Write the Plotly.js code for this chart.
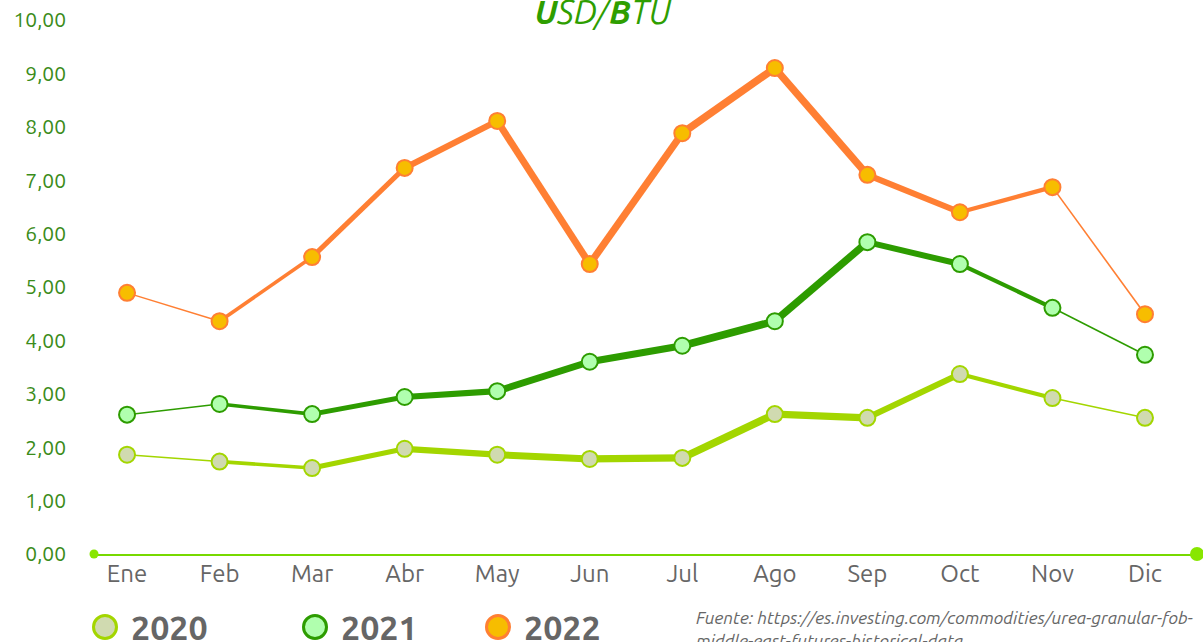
<!DOCTYPE html>
<html>
<head>
<meta charset="utf-8">
<script src="https://cdn.plot.ly/plotly-3.0.1.min.js"></script>
<style>html,body{margin:0;padding:0;background:#fff}#chart{width:1203px;height:642px}</style>
</head>
<body>
<div id="chart"></div>
<script>
const months = ["Ene","Feb","Mar","Abr","May","Jun","Jul","Ago","Sep","Oct","Nov","Dic"];
const values2020 = [1.86, 1.73, 1.61, 1.97, 1.86, 1.78, 1.80, 2.62, 2.55, 3.37, 2.92, 2.55];
const values2021 = [2.61, 2.81, 2.62, 2.94, 3.05, 3.60, 3.90, 4.36, 5.84, 5.43, 4.61, 3.73];
const values2022 = [4.89, 4.36, 5.56, 7.23, 8.11, 5.43, 7.88, 9.10, 7.10, 6.40, 6.87, 4.49];
const seriesNames = ["2020","2021","2022"];
const yTicks = [0,1,2,3,4,5,6,7,8,9,10];
const sourceText = "Fuente: https://es.investing.com/commodities/urea-granular-fob-<br>middle-east-futures-historical-data";

// styles
const segWidths = [1.5, 3.6, 5.0, 6.2, 7.0, 7.2, 7.6, 7.4, 6.0, 4.2, 1.6];
const lineColors = ["#a3d600", "#2d9c00", "#ff7f33"];
const markerFill = ["#d0dab0", "#b0ffae", "#f7bd00"];
const markerLine = ["#a3d600", "#2d9c00", "#ff7f33"];
const allValues = [values2020, values2021, values2022];
const FONT = "Ubuntu, 'Open Sans', sans-serif";

const traces = [];
allValues.forEach((vals, s) => {
  for (let i = 0; i < vals.length - 1; i++) {
    traces.push({
      type: "scatter", mode: "lines",
      x: [months[i], months[i+1]], y: [vals[i], vals[i+1]],
      line: {color: lineColors[s], width: segWidths[i]},
      showlegend: false, hoverinfo: "skip"
    });
  }
});
allValues.forEach((vals, s) => {
  traces.push({
    type: "scatter", mode: "markers", name: seriesNames[s],
    x: months, y: vals, cliponaxis: false,
    marker: {size: 16, color: markerFill[s], line: {color: markerLine[s], width: 2}},
    showlegend: false
  });
});

const legendX = [105, 315, 498];
const shapes = [];
const annotations = [];
seriesNames.forEach((n, s) => {
  shapes.push({type: "circle", xref: "paper", yref: "paper", xsizemode: "pixel", ysizemode: "pixel",
    xanchor: (legendX[s] - 94) / 1103, yanchor: -(627 - 554) / 534,
    x0: -11.5, x1: 11.5, y0: -11.5, y1: 11.5,
    fillcolor: markerFill[s], line: {color: markerLine[s], width: 3}});
  annotations.push({xref: "paper", yref: "paper", x: (legendX[s] + 24 - 94) / 1103, y: -(627 - 554) / 534,
    xanchor: "left", yanchor: "middle", showarrow: false, text: "<b>" + n + "</b>",
    font: {family: FONT, size: 34, color: "#666666"}});
});
// axis end dots
shapes.push({type: "circle", xref: "paper", yref: "paper", xsizemode: "pixel", ysizemode: "pixel",
  xanchor: 0, yanchor: 0, x0: -4.5, x1: 4.5, y0: -4.5, y1: 4.5, fillcolor: "#88e600", line: {width: 0}});
shapes.push({type: "circle", xref: "paper", yref: "paper", xsizemode: "pixel", ysizemode: "pixel",
  xanchor: 1, yanchor: 0, x0: -7, x1: 7, y0: -7, y1: 7, fillcolor: "#88e600", line: {width: 0}});

annotations.push({xref: "paper", yref: "paper", x: (694 - 94) / 1103, y: -(606 - 554) / 534,
  xanchor: "left", yanchor: "top", align: "left", showarrow: false, text: "<i>" + sourceText + "</i>",
  font: {family: FONT, size: 17.5, color: "#666666"}});

const layout = {
  width: 1203, height: 642,
  margin: {l: 94, r: 6, t: 20, b: 88},
  paper_bgcolor: "#ffffff", plot_bgcolor: "#ffffff",
  separators: ",.",
  showlegend: false,
  title: {text: "<i><b>U</b>SD/<b>B</b>TU</i>", xref: "container", x: 0.501, xanchor: "center",
    yref: "container", y: 0.998, yanchor: "top", pad: {t: 0},
    font: {family: FONT, size: 33, color: "#2e9e00"}},
  xaxis: {type: "category", categoryorder: "array", categoryarray: months,
    range: [-0.357, 11.562], showgrid: false, zeroline: false,
    showline: true, linecolor: "#77d900", linewidth: 2, ticks: "", ticklabelstandoff: -3,
    tickfont: {family: FONT, size: 24, color: "#666666"}},
  yaxis: {range: [0, 10], tickvals: yTicks, tickformat: ".2f", showgrid: false, zeroline: false,
    showline: false, ticks: "", ticklabelstandoff: 27,
    tickfont: {family: FONT, size: 21, color: "#3a8c1a"}},
  shapes: shapes,
  annotations: annotations
};

Plotly.newPlot("chart", traces, layout, {displayModeBar: false, staticPlot: true});
</script>
</body>
</html>
